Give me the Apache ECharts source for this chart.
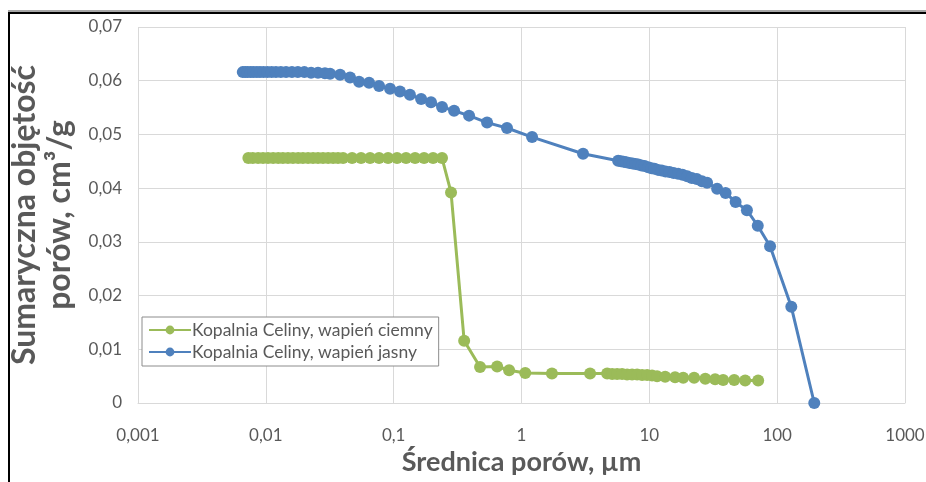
<!DOCTYPE html>
<html>
<head>
<meta charset="utf-8">
<script src="https://cdn.jsdelivr.net/npm/echarts@6/dist/echarts.min.js"></script>
<style>
  html, body { margin: 0; padding: 0; background: #fff; }
  #chart { width: 926px; height: 482px; }
</style>
</head>
<body>
<div id="chart"></div>
<script>
// Pore diameter (µm) and cumulative pore volume (cm³/g), dark limestone
const darkDiameter = [
  0.0073, 0.0079, 0.0087, 0.0095, 0.0104, 0.0114, 0.0125, 0.0136, 0.0149, 0.0163,
  0.0179, 0.0195, 0.0214, 0.0234, 0.0256, 0.0280, 0.0307, 0.0336, 0.0367, 0.0402,
  0.0473, 0.0556, 0.0654, 0.0769, 0.0904, 0.1063, 0.1250, 0.1471, 0.1729, 0.2034,
  0.239, 0.281, 0.356, 0.474, 0.645, 0.80, 1.07, 1.73, 3.44, 4.68,
  5.12, 5.60, 6.12, 6.70, 7.33, 8.03, 8.78, 9.61, 10.5, 11.5,
  13.3, 15.9, 18.4, 22.4, 27.4, 32.7, 37.8, 46.1, 56.2, 71.0
];
const darkVolume = [
  0.0456, 0.0456, 0.0456, 0.0456, 0.0456, 0.0456, 0.0456, 0.0456, 0.0456, 0.0456,
  0.0456, 0.0456, 0.0456, 0.0456, 0.0456, 0.0456, 0.0456, 0.0456, 0.0456, 0.0456,
  0.0456, 0.0456, 0.0456, 0.0456, 0.0456, 0.0456, 0.0456, 0.0456, 0.0456, 0.0456,
  0.0456, 0.0392, 0.0116, 0.0067, 0.0068, 0.0061, 0.0056, 0.0055, 0.0055, 0.0055,
  0.0054, 0.0054, 0.0054, 0.0053, 0.0053, 0.0053, 0.0052, 0.0052, 0.0051, 0.0050,
  0.0049, 0.0048, 0.0047, 0.0047, 0.0045, 0.0044, 0.0043, 0.0043, 0.0042, 0.0042
];

// Pore diameter (µm) and cumulative pore volume (cm³/g), light limestone
const lightDiameter = [
  0.0066, 0.0069, 0.0072, 0.0076, 0.0080, 0.0085, 0.0090, 0.0096, 0.0103, 0.0111,
  0.0120, 0.0131, 0.0144, 0.0160, 0.0178, 0.0200, 0.0226, 0.0256, 0.0290, 0.0318,
  0.0381, 0.0456, 0.0536, 0.0642, 0.0769, 0.0937, 0.112, 0.134, 0.164, 0.196,
  0.239, 0.297, 0.389, 0.538, 0.77, 1.21, 3.03, 5.7, 6.0, 6.3,
  6.6, 7.0, 7.4, 7.8, 8.2, 8.7, 9.2, 9.8, 10.4, 11.0,
  11.7, 12.5, 13.4, 14.4, 15.5, 16.8, 18.2, 19.8, 21.5, 23.5,
  25.8, 28.3, 33.9, 39.5, 47.3, 58.0, 70.5, 88, 129, 195
];
const lightVolume = [
  0.0616, 0.0616, 0.0616, 0.0616, 0.0616, 0.0616, 0.0616, 0.0616, 0.0616, 0.0616,
  0.0616, 0.0616, 0.0616, 0.0616, 0.0616, 0.0616, 0.0615, 0.0615, 0.0614, 0.0613,
  0.0611, 0.0606, 0.0598, 0.0596, 0.0590, 0.0585, 0.0580, 0.0574, 0.0566, 0.0560,
  0.0551, 0.0544, 0.0535, 0.0522, 0.0512, 0.0495, 0.0464, 0.0451, 0.0450, 0.0449,
  0.0448, 0.0447, 0.0446, 0.0445, 0.0444, 0.0442, 0.0441, 0.0439, 0.0437, 0.0436,
  0.0434, 0.0433, 0.0431, 0.0430, 0.0428, 0.0427, 0.0425, 0.0422, 0.0419, 0.0417,
  0.0413, 0.0410, 0.0399, 0.0391, 0.0374, 0.0359, 0.0330, 0.0292, 0.0179, 0.0
];

const seriesNames = ['Kopalnia Celiny, wapień ciemny', 'Kopalnia Celiny, wapień jasny'];
const xTickLabels = ['0,001', '0,01', '0,1', '1', '10', '100', '1000'];
const yTickLabels = ['0', '0,01', '0,02', '0,03', '0,04', '0,05', '0,06', '0,07'];

const pairs = (xs, ys) => xs.map((x, i) => [x, ys[i]]);
const FONT = 'Lato, "Noto Sans", sans-serif';
const TEXT = '#595959';

const chart = echarts.init(document.getElementById('chart'), null, { renderer: 'canvas' });
chart.setOption({
  animation: false,
  backgroundColor: '#ffffff',
  grid: { left: 138, right: 21, top: 27, bottom: 79, containLabel: false, outerBoundsMode: 'none' },
  xAxis: {
    type: 'log',
    logBase: 10,
    min: 0.001,
    max: 1000,
    axisLine: { show: true, lineStyle: { color: '#d9d9d9', width: 1 } },
    axisTick: { show: false },
    splitLine: { show: true, lineStyle: { color: '#d9d9d9', width: 1 } },
    axisLabel: {
      margin: 24,
      color: TEXT,
      fontFamily: FONT,
      fontSize: 17,
      formatter: v => {
        const k = Math.round(Math.log10(v)) + 3;
        return xTickLabels[k] !== undefined ? xTickLabels[k] : '';
      }
    },
    name: 'Średnica porów, µm',
    nameLocation: 'middle',
    nameGap: 46,
    nameTextStyle: { color: TEXT, fontFamily: FONT, fontSize: 27, fontWeight: 'bold' }
  },
  yAxis: {
    type: 'value',
    min: 0,
    max: 0.07,
    interval: 0.01,
    axisLine: { show: false },
    axisTick: { show: false },
    splitLine: { show: true, lineStyle: { color: '#d9d9d9', width: 1 } },
    axisLabel: {
      margin: 16,
      color: TEXT,
      fontFamily: FONT,
      fontSize: 17,
      formatter: v => yTickLabels[Math.round(v * 100)]
    },
    name: 'Sumaryczna objętość\nporów, cm³/g',
    nameLocation: 'middle',
    nameGap: 57,
    nameRotate: 90,
    nameTextStyle: { color: TEXT, fontFamily: FONT, fontSize: 32, fontWeight: 'bold', lineHeight: 35 }
  },
  legend: {
    orient: 'vertical',
    left: 142,
    top: 317,
    data: seriesNames,
    backgroundColor: '#ffffff',
    borderColor: '#8c8c8c',
    borderWidth: 1,
    borderRadius: 0,
    padding: [4, 6, 5, 6],
    itemGap: 4,
    itemWidth: 42,
    itemHeight: 11,
    textStyle: { color: TEXT, fontFamily: FONT, fontSize: 17.5, padding: [0, 0, 0, -4] }
  },
  series: [
    {
      name: seriesNames[0],
      type: 'line',
      data: pairs(darkDiameter, darkVolume),
      symbol: 'circle',
      symbolSize: 12,
      itemStyle: { color: '#9bbb59' },
      lineStyle: { color: '#9bbb59', width: 3 },
      z: 2
    },
    {
      name: seriesNames[1],
      type: 'line',
      data: pairs(lightDiameter, lightVolume),
      symbol: 'circle',
      symbolSize: 12,
      itemStyle: { color: '#4f81bd' },
      lineStyle: { color: '#4f81bd', width: 3 },
      z: 3
    }
  ],
  graphic: [
    // outer frame: top and left edges
    { type: 'rect', shape: { x: 8, y: 10, width: 918, height: 2 }, style: { fill: '#a6a6a6' }, silent: true },
    { type: 'rect', shape: { x: 8, y: 12, width: 918, height: 2 }, style: { fill: '#000000' }, silent: true },
    { type: 'rect', shape: { x: 8, y: 12, width: 2, height: 470 }, style: { fill: '#000000' }, silent: true }
  ]
});
</script>
</body>
</html>
